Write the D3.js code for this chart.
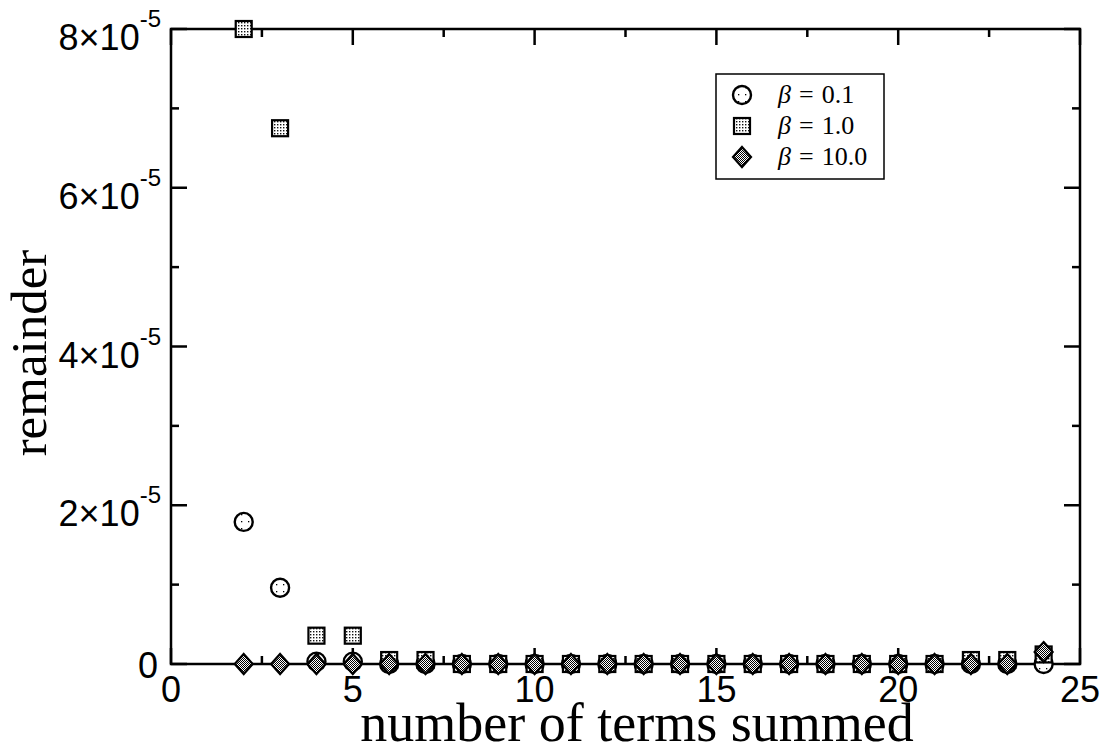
<!DOCTYPE html>
<html>
<head>
<meta charset="utf-8">
<script src="https://cdn.jsdelivr.net/npm/d3@7"></script>
<style>
  html, body { margin: 0; padding: 0; background: #fff; }
  svg { display: block; }
</style>
</head>
<body>
<svg id="chart" width="1108" height="751"></svg>
<script>
// Number of terms summed (x) for every series
const terms = [2, 3, 4, 5, 6, 7, 8, 9, 10, 11, 12, 13, 14, 15, 16, 17, 18, 19, 20, 21, 22, 23, 24];

// Remainder after summing, per beta
const remainderBeta01 = [1.79e-5, 0.96e-5, 0.03e-5, 0.03e-5, 0, 0, 0, 0, 0, 0, 0, 0, 0, 0, 0, 0, 0, 0, 0, 0, 0, 0, 0];
const remainderBeta1  = [8.0e-5, 6.75e-5, 0.357e-5, 0.357e-5, 0.05e-5, 0.05e-5, 0, 0, 0, 0, 0, 0, 0, 0, 0, 0, 0, 0, 0, 0, 0.05e-5, 0.05e-5, 0.12e-5];
const remainderBeta10 = [0, 0, 0, 0, 0, 0, 0, 0, 0, 0, 0, 0, 0, 0, 0, 0, 0, 0, 0, 0, 0, 0, 0.15e-5];

const seriesNames = ["0.1", "1.0", "10.0"];

// Axis ticks
const xMajorTicks = [0, 5, 10, 15, 20, 25];
const xMinorTicks = [2.5, 7.5, 12.5, 17.5, 22.5];
const yMajorTicks = [0, 2e-5, 4e-5, 6e-5, 8e-5];
const yMinorTicks = [1e-5, 3e-5, 5e-5, 7e-5];
const xTickLabels = ["0", "5", "10", "15", "20", "25"];
const yTickMantissas = ["0", "2", "4", "6", "8"];
const yTickExponent = "-5";

const svg = d3.select("#chart");
const plotLeft = 171, plotRight = 1080, plotTop = 29, plotBottom = 664;

const x = d3.scaleLinear().domain([0, 25]).range([plotLeft, plotRight]);
const y = d3.scaleLinear().domain([0, 8e-5]).range([plotBottom, plotTop]);

// Fill patterns for the markers
const defs = svg.append("defs");
const pCircle = defs.append("pattern").attr("id", "pat-sparse")
  .attr("patternUnits", "userSpaceOnUse").attr("width", 7).attr("height", 7);
pCircle.append("rect").attr("width", 7).attr("height", 7).attr("fill", "#fff");
pCircle.append("rect").attr("x", 3).attr("y", 3).attr("width", 1.3).attr("height", 1.3).attr("fill", "#000");

const pSquare = defs.append("pattern").attr("id", "pat-dots")
  .attr("patternUnits", "userSpaceOnUse").attr("width", 3).attr("height", 3);
pSquare.append("rect").attr("width", 3).attr("height", 3).attr("fill", "#fff");
pSquare.append("rect").attr("x", 1).attr("y", 1).attr("width", 1.4).attr("height", 1.4).attr("fill", "#111");

const pDiamond = defs.append("pattern").attr("id", "pat-check")
  .attr("patternUnits", "userSpaceOnUse").attr("width", 2).attr("height", 2);
pDiamond.append("rect").attr("width", 2).attr("height", 2).attr("fill", "#fff");
pDiamond.append("rect").attr("x", 0).attr("y", 0).attr("width", 1).attr("height", 1).attr("fill", "#000");
pDiamond.append("rect").attr("x", 1).attr("y", 1).attr("width", 1).attr("height", 1).attr("fill", "#000");

// Marker shapes
const circleR = 9;
const squareHalf = 8;
const diamondHalf = 10;

function drawCircle(g, cx, cy) {
  g.append("circle").attr("cx", cx).attr("cy", cy).attr("r", circleR)
    .attr("fill", "url(#pat-sparse)").attr("stroke", "#000").attr("stroke-width", 2.4);
}
function drawSquare(g, cx, cy) {
  g.append("rect").attr("x", cx - squareHalf).attr("y", cy - squareHalf)
    .attr("width", squareHalf * 2).attr("height", squareHalf * 2)
    .attr("fill", "url(#pat-dots)").attr("stroke", "#000").attr("stroke-width", 2.2);
}
function drawDiamond(g, cx, cy) {
  const h = diamondHalf;
  g.append("path").attr("d", `M${cx},${cy - h}L${cx + h - 1},${cy}L${cx},${cy + h}L${cx - h + 1},${cy}Z`)
    .attr("fill", "url(#pat-check)").attr("stroke", "#000").attr("stroke-width", 2.2);
}

// Frame
svg.append("rect").attr("x", plotLeft).attr("y", plotTop)
  .attr("width", plotRight - plotLeft).attr("height", plotBottom - plotTop)
  .attr("fill", "none").attr("stroke", "#000").attr("stroke-width", 2.5);

// Inward ticks on all four sides
const ticks = svg.append("g").attr("stroke", "#000").attr("stroke-width", 2.5);
const majorLen = 16, minorLen = 8;
function xTicks(values, len) {
  values.forEach(v => {
    ticks.append("line").attr("x1", x(v)).attr("x2", x(v)).attr("y1", plotBottom).attr("y2", plotBottom - len);
    ticks.append("line").attr("x1", x(v)).attr("x2", x(v)).attr("y1", plotTop).attr("y2", plotTop + len);
  });
}
function yTicks(values, len) {
  values.forEach(v => {
    ticks.append("line").attr("y1", y(v)).attr("y2", y(v)).attr("x1", plotLeft).attr("x2", plotLeft + len);
    ticks.append("line").attr("y1", y(v)).attr("y2", y(v)).attr("x1", plotRight).attr("x2", plotRight - len);
  });
}
xTicks(xMajorTicks, majorLen);
xTicks(xMinorTicks, minorLen);
yTicks(yMajorTicks, majorLen);
yTicks(yMinorTicks, minorLen);

// Tick labels
const tickFont = "'Liberation Sans', Arial, sans-serif";
const xLab = svg.append("g").attr("font-family", tickFont).attr("font-size", 36).attr("text-anchor", "middle");
xMajorTicks.forEach((v, i) => {
  xLab.append("text").attr("x", x(v)).attr("y", plotBottom + 38).text(xTickLabels[i]);
});

const yLab = svg.append("g").attr("font-family", tickFont).attr("text-anchor", "end");
yMajorTicks.forEach((v, i) => {
  const t = yLab.append("text").attr("x", 161);
  if (v === 0) {
    t.attr("x", 158).attr("y", y(v) + 14).attr("font-size", 36).text(yTickMantissas[i]);
  } else {
    t.attr("y", y(v) + 21);
    t.append("tspan").attr("font-size", 36).text(yTickMantissas[i] + "\u00d710");
    t.append("tspan").attr("font-size", 24).attr("dy", -23).text(yTickExponent);
  }
});

// Axis titles
const titleFont = "'Liberation Serif', 'Times New Roman', serif";
svg.append("text").attr("x", 637).attr("y", 741)
  .attr("font-family", titleFont).attr("font-size", 54).attr("text-anchor", "middle")
  .text("number of terms summed");
svg.append("text").attr("transform", "translate(46,353) rotate(-90)")
  .attr("font-family", titleFont).attr("font-size", 51).attr("text-anchor", "middle")
  .text("remainder");

// Data markers
const marks = svg.append("g");
terms.forEach((t, i) => drawCircle(marks, x(t), y(remainderBeta01[i])));
terms.forEach((t, i) => drawSquare(marks, x(t), y(remainderBeta1[i])));
terms.forEach((t, i) => drawDiamond(marks, x(t), y(remainderBeta10[i])));

// Legend
const legend = svg.append("g");
legend.append("rect").attr("x", 716).attr("y", 74).attr("width", 168).attr("height", 105)
  .attr("fill", "#fff").attr("stroke", "#000").attr("stroke-width", 1.5);
const legendRows = [95, 126, 157];
const drawers = [drawCircle, drawSquare, drawDiamond];
legendRows.forEach((ry, i) => {
  drawers[i](legend, 742, ry);
  const t = legend.append("text").attr("x", 778).attr("y", ry + 8)
    .attr("font-family", titleFont).attr("font-size", 26);
  t.append("tspan").attr("font-style", "italic").text("\u03b2");
  t.append("tspan").attr("dx", 8).text("=");
  t.append("tspan").attr("dx", 8).text(seriesNames[i]);
});
</script>
</body>
</html>
